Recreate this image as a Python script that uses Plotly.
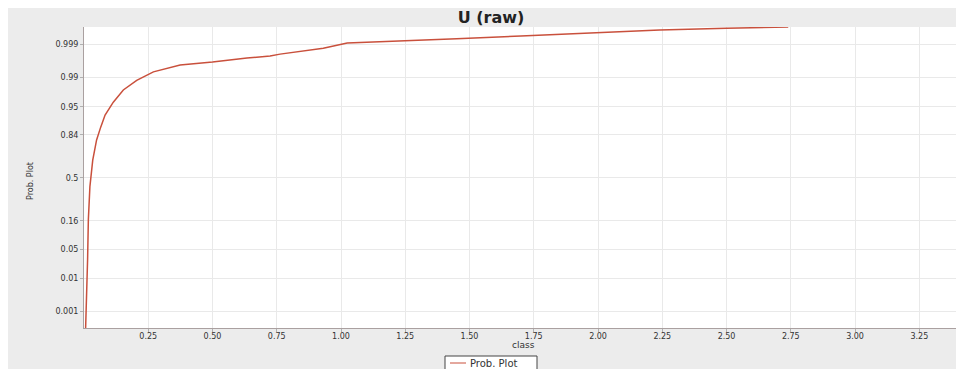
import math
import plotly.graph_objects as go

# ---- data ----
class_values = [0.006, 0.010, 0.014, 0.017, 0.023, 0.034, 0.049, 0.065, 0.082, 0.114,
                0.153, 0.205, 0.27, 0.374, 0.50, 0.634, 0.724, 0.763, 0.931, 1.024,
                1.24, 1.45, 1.70, 2.00, 2.24, 2.50, 2.74]
prob_values = [0.0002, 0.002, 0.03, 0.17, 0.42, 0.66, 0.81, 0.88, 0.927, 0.96,
               0.979, 0.988, 0.9929, 0.9955, 0.9963, 0.9972, 0.9976, 0.9979, 0.99865, 0.99910,
               0.99922, 0.99936, 0.99948, 0.99960, 0.99969, 0.99973, 0.99976]
y_tick_probs = [0.999, 0.99, 0.95, 0.84, 0.5, 0.16, 0.05, 0.01, 0.001]
y_tick_labels = ["0.999", "0.99", "0.95", "0.84", "0.5", "0.16", "0.05", "0.01", "0.001"]
x_tick_vals = [0.25, 0.5, 0.75, 1.0, 1.25, 1.5, 1.75, 2.0, 2.25, 2.5, 2.75, 3.0, 3.25]
x_tick_labels = ["0.25", "0.50", "0.75", "1.00", "1.25", "1.50", "1.75", "2.00",
                 "2.25", "2.50", "2.75", "3.00", "3.25"]
series_name = "Prob. Plot"


def probit(p):
    """Inverse standard normal CDF (normal probability-plot scale)."""
    lo, hi = -10.0, 10.0
    for _ in range(100):
        mid = 0.5 * (lo + hi)
        if 0.5 * (1 + math.erf(mid / math.sqrt(2))) < p:
            lo = mid
        else:
            hi = mid
    return 0.5 * (lo + hi)


# The page body adds an 8px margin, so the figure starts at (8, 8) in the window.
OFF = 8
W, H = 964 - OFF, 369 - OFF
# plot area in window pixels: x 84..963, y 27..328
ml, mr = 84 - OFF, 964 - 963
mt, mb = 27 - OFF, 369 - 328
pw, ph = W - ml - mr, H - mt - mb
LINE_COLOR = "#c9503c"
TXT = "#333333"
FONT = "DejaVu Sans, Verdana, sans-serif"


def px_x(px):   # window pixel -> paper x
    return (px - OFF - ml) / pw


def px_y(py):   # window pixel -> paper y
    return (H - mb - (py - OFF)) / ph


fig = go.Figure()
fig.add_trace(go.Scatter(
    x=class_values, y=[probit(p) for p in prob_values],
    mode="lines", name=series_name, showlegend=False,
    line=dict(color=LINE_COLOR, width=1.5),
))

axis_common = dict(showgrid=True, gridcolor="#e9e9e9", gridwidth=1,
                   showline=True, linecolor="#aaa0a0", linewidth=1,
                   ticks="outside", ticklen=3, tickcolor="#b0b0b0",
                   tickfont=dict(family=FONT, size=8, color=TXT),
                   zeroline=False, automargin=False)

fig.update_layout(
    width=W, height=H,
    margin=dict(l=ml, r=mr, t=mt, b=mb),
    paper_bgcolor="#ececec",
    plot_bgcolor="white",
    font=dict(family=FONT, size=8, color=TXT),
    title=dict(text="<b>U (raw)</b>", x=(491 - OFF) / W, xanchor="center",
               y=1 - (17 - OFF) / H, yanchor="middle", yref="container",
               font=dict(family=FONT, size=16, color="#222222")),
    xaxis=dict(range=[0, 3.42], tickvals=x_tick_vals, ticktext=x_tick_labels,
               ticklabelstandoff=-3, **axis_common),
    yaxis=dict(range=[-3.47, 3.49], tickvals=[probit(p) for p in y_tick_probs],
               ticktext=y_tick_labels, **axis_common),
    showlegend=False,
)

# legend box (drawn by hand so it can run off the bottom edge like the reference)
fig.add_shape(type="rect", xref="paper", yref="paper",
              x0=px_x(445), x1=px_x(537), y0=px_y(356), y1=px_y(375),
              fillcolor="white", line=dict(color="#444444", width=1))
fig.add_shape(type="line", xref="paper", yref="paper",
              x0=px_x(450), x1=px_x(466), y0=px_y(363), y1=px_y(363),
              line=dict(color=LINE_COLOR, width=1))
fig.add_annotation(text=series_name, xref="paper", yref="paper",
                   x=px_x(468), y=px_y(363), xanchor="left", yanchor="middle",
                   showarrow=False, font=dict(family=FONT, size=10, color=TXT))

fig.add_annotation(text="class", xref="paper", yref="paper",
                   x=px_x(523), y=px_y(345), xanchor="center", yanchor="middle",
                   showarrow=False, font=dict(family=FONT, size=9, color=TXT))
fig.add_annotation(text=series_name, xref="paper", yref="paper",
                   x=px_x(30), y=px_y(181), xanchor="center", yanchor="middle",
                   showarrow=False, textangle=-90,
                   font=dict(family=FONT, size=8, color=TXT))

fig.write_html("out.html")
